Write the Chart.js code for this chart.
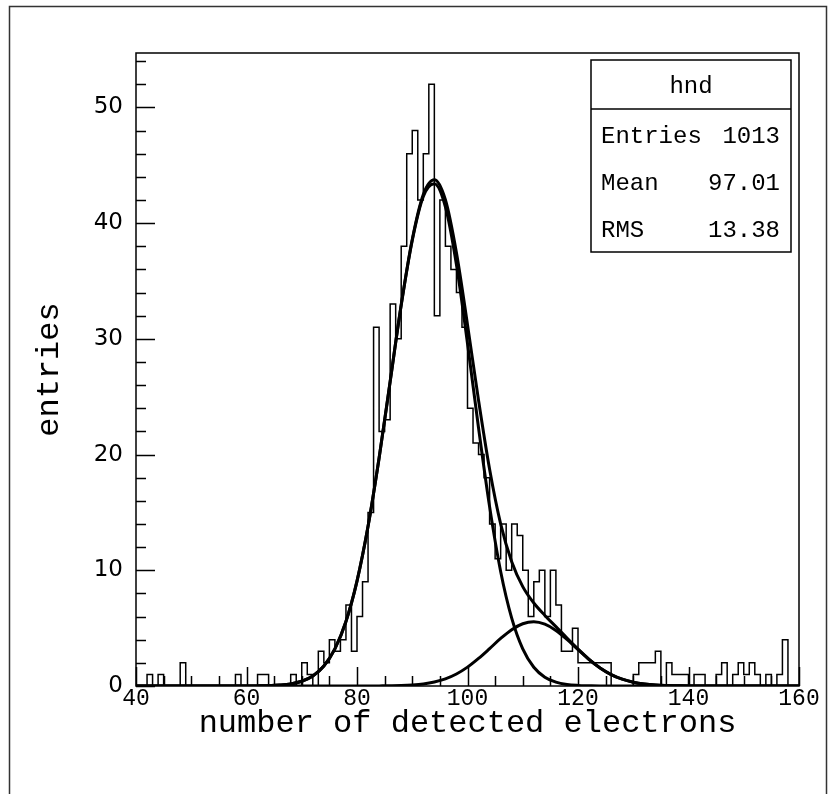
<!DOCTYPE html>
<html>
<head>
<meta charset="utf-8">
<script src="https://cdn.jsdelivr.net/npm/chart.js@4.4.1/dist/chart.umd.min.js"></script>
<style>
html, body { margin: 0; padding: 0; background: #fff; overflow: hidden; }
#c { display: block; }
</style>
</head>
<body>
<canvas id="c" width="836" height="794"></canvas>
<script>
// histogram "hnd": 1-unit bins from 40 to 160, counts
var binLow = 40;
var binWidth = 1;
var binCounts = [
    0, 0, 0, 1, 0, 1, 0, 0, 0, 2,        // 40-49
    0, 0, 0, 0, 0, 0, 0, 0, 0, 1,        // 50-59
    0, 0, 0, 1, 1, 0, 0, 0, 0, 1,        // 60-69
    0, 2, 1, 0, 3, 2, 4, 3, 4, 7,        // 70-79
    3, 6, 9, 15, 31, 22, 23, 33, 30, 38, // 80-89
    46, 48, 42, 46, 52, 32, 42, 38, 36, 34, // 90-99
    31, 24, 21, 20, 18, 14, 11, 14, 10, 14, // 100-109
    13, 10, 6, 9, 10, 6, 10, 7, 3, 3,    // 110-119
    5, 2, 2, 2, 2, 2, 2, 0, 0, 0,        // 120-129
    0, 1, 2, 2, 2, 3, 0, 2, 1, 1,        // 130-139
    1, 0, 1, 1, 0, 0, 1, 2, 0, 1,        // 140-149
    2, 1, 2, 1, 0, 1, 0, 1, 4, 0         // 150-159
];

// fitted curves
var curveX = [40, 50, 60, 62, 64, 66, 68, 70, 72, 74, 76, 78, 80, 82, 84, 86, 88, 90, 92, 94,
    96, 98, 100, 102, 104, 106, 108, 110, 112, 114, 116, 118, 120, 122, 124, 126, 128, 130,
    132, 134, 136, 138, 140, 150, 160];
var mainPeak = [0, 0, 0, 0.01, 0.03, 0.08, 0.18, 0.41, 0.87, 1.73, 3.21, 5.58, 9.07, 13.8, 19.7,
    26.3, 32.9, 38.5, 42.3, 43.4, 41.4, 36.4, 29.6, 22.3, 15.5, 9.9, 5.87, 3.21, 1.62, 0.76,
    0.33, 0.13, 0.05, 0.02, 0, 0, 0, 0, 0, 0, 0, 0, 0, 0, 0];
var secondPeak = [0, 0, 0, 0, 0, 0, 0, 0, 0, 0, 0, 0, 0, 0, 0.01, 0.02, 0.04, 0.09, 0.18, 0.35,
    0.62, 1.04, 1.63, 2.38, 3.23, 4.11, 4.87, 5.38, 5.55, 5.34, 4.80, 4.02, 3.15, 2.29, 1.56,
    0.99, 0.59, 0.33, 0.17, 0.08, 0.04, 0.02, 0, 0, 0];
var totalFit = [0, 0, 0, 0.01, 0.03, 0.08, 0.18, 0.41, 0.87, 1.73, 3.21, 5.58, 9.07, 13.8, 19.71,
    26.32, 32.94, 38.59, 42.48, 43.75, 42.02, 37.44, 31.23, 24.68, 18.73, 14.01, 10.74, 8.59,
    7.17, 6.10, 5.13, 4.15, 3.20, 2.31, 1.56, 0.99, 0.59, 0.33, 0.17, 0.08, 0.04, 0.02, 0, 0, 0];

// axis ranges and tick steps
var xMin = 40, xMax = 160, xMajorStep = 20, xMinorStep = 5;
var yMin = 0, yMax = 54.7, yMajorStep = 10, yMinorStep = 2;

// stats box text
var statsTitle = 'hnd';
var statsNames = ['Entries', 'Mean', 'RMS'];
var statsValues = ['1013', '97.01', '13.38'];

var monoFont = "'Liberation Mono', 'DejaVu Sans Mono', monospace";
var sansFont = "'DejaVu Sans', sans-serif";

function histPoints() {
    var pts = [];
    for (var i = 0; i < binCounts.length; i++) {
        pts.push({ x: binLow + i * binWidth, y: binCounts[i] });
    }
    pts.push({ x: binLow + binCounts.length * binWidth, y: binCounts[binCounts.length - 1] });
    return pts;
}

function curvePoints(ys) {
    return curveX.map(function(x, i) { return { x: x, y: ys[i] }; });
}

function fitDataset(label, ys) {
    return {
        label: label,
        data: curvePoints(ys),
        borderColor: '#000',
        borderWidth: 3,
        pointRadius: 0,
        fill: false,
        cubicInterpolationMode: 'monotone'
    };
}

var pageFrame = {
    id: 'pageFrame',
    beforeDraw: function(chart) {
        var ctx = chart.ctx;
        ctx.save();
        ctx.fillStyle = '#fff';
        ctx.fillRect(0, 0, chart.width, chart.height);
        ctx.strokeStyle = '#333';
        ctx.lineWidth = 1.5;
        ctx.beginPath();
        ctx.moveTo(9.5, chart.height);
        ctx.lineTo(9.5, 6.5);
        ctx.lineTo(826.5, 6.5);
        ctx.lineTo(826.5, chart.height);
        ctx.stroke();
        ctx.restore();
    }
};

var plotFrame = {
    id: 'plotFrame',
    afterDraw: function(chart) {
        var ctx = chart.ctx, a = chart.chartArea;
        var xs = chart.scales.x, ys = chart.scales.y;
        ctx.save();
        ctx.strokeStyle = '#000';
        ctx.lineWidth = 1.5;
        ctx.strokeRect(a.left, a.top, a.right - a.left, a.bottom - a.top);

        ctx.beginPath();
        for (var v = yMin; v <= yMax; v += yMinorStep) {
            var py = Math.round(ys.getPixelForValue(v)) + 0.5;
            var len = (v % yMajorStep === 0) ? 19 : 10;
            ctx.moveTo(a.left, py);
            ctx.lineTo(a.left + len, py);
        }
        for (var u = xMin; u <= xMax; u += xMinorStep) {
            var px = Math.round(xs.getPixelForValue(u)) + 0.5;
            var len2 = (u % xMajorStep === 0) ? 19 : 10;
            ctx.moveTo(px, a.bottom);
            ctx.lineTo(px, a.bottom - len2);
        }
        ctx.stroke();

        // stats box
        var bx = 591, by = 60, bw = 200, bh = 192, headH = 49;
        ctx.fillStyle = '#fff';
        ctx.fillRect(bx, by, bw, bh);
        ctx.strokeRect(bx, by, bw, bh);
        ctx.beginPath();
        ctx.moveTo(bx, by + headH);
        ctx.lineTo(bx + bw, by + headH);
        ctx.stroke();
        ctx.fillStyle = '#000';
        ctx.font = '24px ' + monoFont;
        ctx.textBaseline = 'middle';
        ctx.textAlign = 'center';
        ctx.fillText(statsTitle, bx + bw / 2, by + 27);
        for (var i = 0; i < statsNames.length; i++) {
            var ry = by + 77 + i * 47;
            ctx.textAlign = 'left';
            ctx.fillText(statsNames[i], bx + 10, ry);
            ctx.textAlign = 'right';
            ctx.fillText(statsValues[i], bx + bw - 11, ry);
        }
        ctx.restore();
    }
};

var chart = new Chart(document.getElementById('c'), {
    type: 'line',
    data: {
        datasets: [
            {
                label: statsTitle,
                data: histPoints(),
                borderColor: '#000',
                borderWidth: 1.5,
                pointRadius: 0,
                fill: false,
                stepped: 'after'
            },
            fitDataset('gaus 1', mainPeak),
            fitDataset('gaus 2', secondPeak),
            fitDataset('sum', totalFit)
        ]
    },
    options: {
        responsive: false,
        animation: false,
        devicePixelRatio: 1,
        layout: { padding: { left: 0, top: 53, right: 37, bottom: 0 } },
        plugins: {
            legend: { display: false },
            tooltip: { enabled: false }
        },
        scales: {
            x: {
                type: 'linear',
                min: xMin,
                max: xMax,
                afterFit: function(s) { s.height = 108; },
                grid: { display: false, drawTicks: false },
                border: { display: false },
                ticks: {
                    stepSize: xMajorStep,
                    includeBounds: false,
                    autoSkip: false,
                    maxRotation: 0,
                    padding: 1,
                    color: '#000',
                    font: { family: monoFont, size: 23, lineHeight: 1 }
                },
                title: {
                    display: true,
                    text: 'number of detected electrons',
                    color: '#000',
                    font: { family: monoFont, size: 32, lineHeight: 1 },
                    padding: { top: 0, bottom: 54 }
                }
            },
            y: {
                type: 'linear',
                min: yMin,
                max: yMax,
                afterFit: function(s) { s.width = 136; },
                grid: { display: false, drawTicks: false },
                border: { display: false },
                ticks: {
                    stepSize: yMajorStep,
                    includeBounds: false,
                    padding: 13,
                    color: '#000',
                    font: { family: sansFont, size: 23, lineHeight: 1 }
                },
                title: {
                    display: true,
                    text: 'entries',
                    color: '#000',
                    font: { family: monoFont, size: 32, lineHeight: 1 },
                    padding: { top: 34, bottom: 0 }
                }
            }
        }
    },
    plugins: [pageFrame, plotFrame]
});
</script>
</body>
</html>
